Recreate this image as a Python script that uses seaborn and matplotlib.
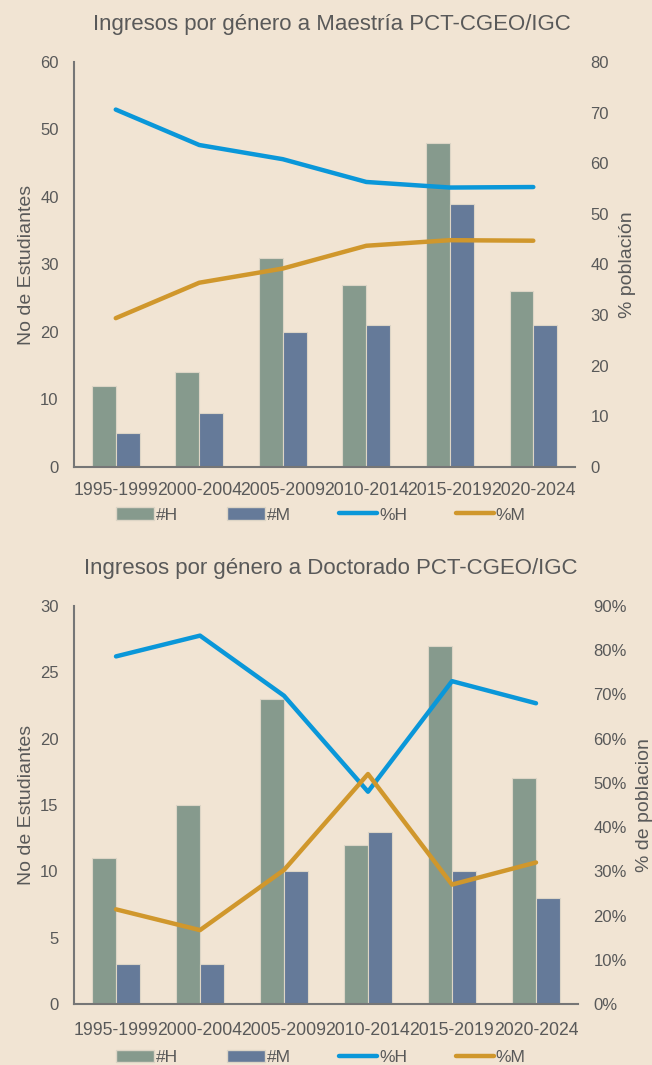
import numpy as np
import pandas as pd
import matplotlib
matplotlib.use("Agg")
import matplotlib.pyplot as plt
import seaborn as sns
from matplotlib.patches import Patch
from matplotlib.lines import Line2D
from matplotlib.ticker import PercentFormatter

# datos
periodos = ["1995-1999", "2000-2004", "2005-2009", "2010-2014", "2015-2019", "2020-2024"]

maestria_h = [12, 14, 31, 27, 48, 26]
maestria_m = [5, 8, 20, 21, 39, 21]
maestria_pct_h = [70.6, 63.6, 60.8, 56.3, 55.2, 55.3]
maestria_pct_m = [29.4, 36.4, 39.2, 43.7, 44.8, 44.7]

doctorado_h = [11, 15, 23, 12, 27, 17]
doctorado_m = [3, 3, 10, 13, 10, 8]
doctorado_pct_h = [78.6, 83.3, 69.7, 48.0, 73.0, 68.0]
doctorado_pct_m = [21.4, 16.7, 30.3, 52.0, 27.0, 32.0]

BG = "#f1e4d3"
TXT = "#595959"
C_H = "#869a8d"
C_M = "#657a99"
C_PH = "#0a97d9"
C_PM = "#d0972c"

sns.set_theme(style="white")
plt.rcParams["font.family"] = ["Liberation Sans", "DejaVu Sans"]
plt.rcParams["text.color"] = TXT
plt.rcParams["axes.labelcolor"] = TXT
plt.rcParams["xtick.color"] = TXT
plt.rcParams["ytick.color"] = TXT


def panel(ax, h, m, ph, pm, titulo, ylim, y2lim, y2label, pct_fmt, xpad, tx):
    df = pd.DataFrame({
        "periodo": periodos * 2,
        "n": h + m,
        "grupo": ["#H"] * len(periodos) + ["#M"] * len(periodos),
    })
    ax.set_facecolor(BG)
    sns.barplot(data=df, x="periodo", y="n", hue="grupo", palette=[C_H, C_M],
                width=0.57, edgecolor="#ddd5c6", linewidth=0.8, saturation=1,
                legend=False, ax=ax)
    ax.set_ylim(*ylim)
    ax.set_xlim(-0.5, len(periodos) - 0.5)
    ax.set_xlabel("")
    ax.set_ylabel("No de Estudiantes", fontsize=14)
    ax.tick_params(axis="x", labelsize=12.7, length=0, pad=xpad)
    ax.tick_params(axis="y", labelsize=12, length=0, pad=11)
    ax.set_title(titulo, fontsize=16, color=TXT, pad=23, x=tx)
    for s in ["top", "right"]:
        ax.spines[s].set_visible(False)
    for s in ["left", "bottom"]:
        ax.spines[s].set_color("#767676")
        ax.spines[s].set_linewidth(1.5)

    ax2 = ax.twinx()
    x = np.arange(len(periodos))
    sns.lineplot(x=x, y=ph, color=C_PH, linewidth=3.2, ax=ax2)
    sns.lineplot(x=x, y=pm, color=C_PM, linewidth=3.2, ax=ax2)
    ax2.set_ylim(*y2lim)
    ax2.set_ylabel(y2label, fontsize=14, labelpad=7)
    ax2.tick_params(axis="y", labelsize=12, length=0, pad=11)
    if pct_fmt:
        ax2.yaxis.set_major_formatter(PercentFormatter(decimals=0))
    for s in ["top", "right", "left", "bottom"]:
        ax2.spines[s].set_visible(False)
    return ax2


fig = plt.figure(figsize=(6.52, 10.65), dpi=100)
fig.patch.set_facecolor(BG)

ax1 = fig.add_axes([0.1135, 0.5615, 0.7685, 0.3803])
panel(ax1, maestria_h, maestria_m, maestria_pct_h, maestria_pct_m,
      "Ingresos por género a Maestría PCT-CGEO/IGC", (0, 60), (0, 80), "% población", False, 11, 0.515)
ax1.set_yticks(range(0, 61, 10))

ax3 = fig.add_axes([0.1135, 0.0573, 0.773, 0.3737])
a4 = panel(ax3, doctorado_h, doctorado_m, doctorado_pct_h, doctorado_pct_m,
           "Ingresos por género a Doctorado PCT-CGEO/IGC", (0, 30), (0, 90), "% de poblacion", True, 13, 0.51)
ax3.set_yticks(range(0, 31, 5))
a4.set_yticks(range(0, 91, 10))

handles = [Patch(facecolor=C_H, edgecolor="#ddd5c6"), Patch(facecolor=C_M, edgecolor="#ddd5c6"),
           Line2D([], [], color=C_PH, linewidth=3.2), Line2D([], [], color=C_PM, linewidth=3.2)]
labels = ["#H", "#M", "%H", "%M"]
for ypos in [0.5165, 0.007]:
    fig.legend(handles, labels, loc="center", bbox_to_anchor=(0.492, ypos), ncol=4,
               frameon=False, fontsize=12.5, handlelength=2.2, handletextpad=0.1,
               columnspacing=2.8)

fig.savefig("out.png", dpi=100, facecolor=BG)
